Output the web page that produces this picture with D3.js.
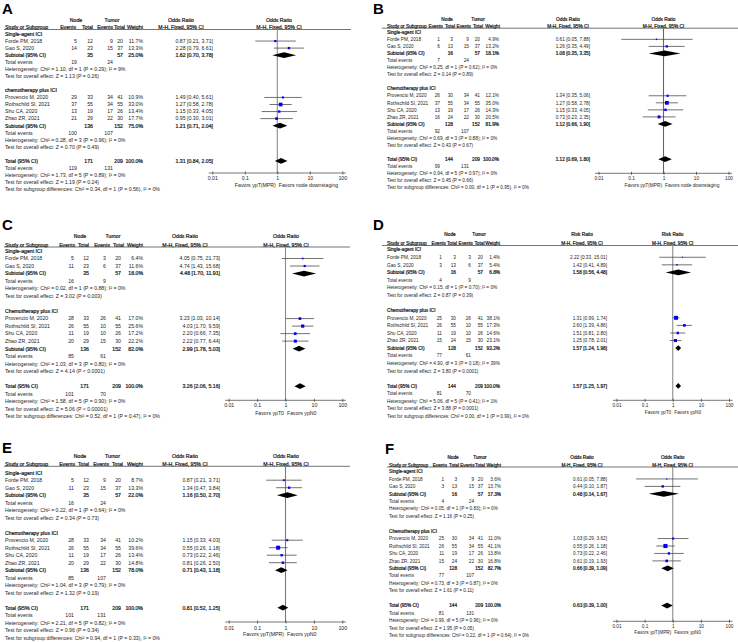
<!DOCTYPE html>
<html><head><meta charset="utf-8">
<script src="https://cdn.jsdelivr.net/npm/d3@7"></script>
<style>
html,body{margin:0;padding:0;background:#fff;}
svg{display:block;font-family:"Liberation Sans",Arial,sans-serif;}
</style></head><body>
<svg id="chart" width="738" height="642"></svg>
<script>
// ---------------- DATA ----------------
const panelLetters = ["A","B","C","D","E","F"];
const measureNames = ["Odds Ratio","Odds Ratio","Odds Ratio","Risk Ratio","Odds Ratio","Odds Ratio"];
const methodLabel = "M-H, Fixed, 95% CI";
const favorsLeft = ["Favors ypT(MPR)","Favors ypT(MPR)","Favors ypT0","Favors ypT0","Favors ypT(MPR)","Favors ypT(MPR)"];
const favorsRight = ["Favors node downstaging","Favors node downstaging","Favors ypN0","Favors ypN0","Favors ypN0","Favors ypN0"];
const subgroup1Names = ["Single-agent ICI","Single-agent ICI","Single-agent ICI","Single-agent ICI","Single-agent ICI","Single-agent ICI"];
const subgroup2Names = ["chemotherapy plus ICI","Chemotherapy plus ICI","Chemotherapy plus ICI","Chemotherapy plus ICI","Chemotherapy plus ICI","Chemotherapy plus ICI"];
const studyNames = ["Forde PM, 2018","Gao S, 2020","Provencio M, 2020","Rothschild SI, 2021","Shu CA, 2020","Zhao ZR, 2021"];
const tickValues = [0.01, 0.1, 1, 10, 100];
const tickLabels = ["0.01","0.1","1","10","100"];

const nodeEvents = [
  [5,14,29,37,13,21],
  [1,6,26,37,13,16],
  [5,11,28,26,11,20],
  [1,3,25,26,11,15],
  [5,11,28,26,11,20],
  [1,3,25,26,11,15]];
const nodeTotals = [
  [12,23,33,55,19,29],
  [3,13,30,55,19,24],
  [12,23,33,55,19,29],
  [3,13,30,55,19,24],
  [12,23,33,55,19,29],
  [3,13,30,55,19,24]];
const tumorEvents = [
  [9,15,34,34,17,22],
  [9,15,34,34,17,22],
  [3,6,26,10,10,15],
  [3,6,26,10,10,15],
  [9,15,34,34,17,22],
  [9,15,34,34,17,22]];
const tumorTotals = [
  [20,37,41,55,26,30],
  [20,37,41,55,26,30],
  [20,37,41,55,26,30],
  [20,37,41,55,26,30],
  [20,37,41,55,26,30],
  [20,37,41,55,26,30]];
const weights = [
  [11.7,13.3,10.9,33.0,13.4,17.7],
  [4.9,13.2,12.1,35.0,14.3,20.5],
  [6.4,11.6,17.0,25.6,17.2,22.2],
  [1.4,5.4,38.1,17.3,14.6,23.1],
  [8.7,13.3,10.2,39.6,13.4,14.8],
  [3.6,13.7,11.0,41.1,13.8,16.8]];
const estimates = [
  [0.87,2.28,1.49,1.27,1.15,0.95],
  [0.61,1.26,1.34,1.27,1.15,0.73],
  [4.05,4.74,3.23,4.03,2.20,2.22],
  [2.22,1.42,1.31,2.60,1.51,1.25],
  [0.87,1.34,1.15,0.55,0.73,0.81],
  [0.61,0.44,1.03,0.55,0.73,0.61]];
const lowerCI = [
  [0.21,0.79,0.40,0.58,0.33,0.30],
  [0.05,0.35,0.35,0.58,0.33,0.23],
  [0.75,1.43,1.03,1.70,0.66,0.77],
  [0.33,0.41,0.99,1.39,0.81,0.78],
  [0.21,0.47,0.33,0.26,0.22,0.26],
  [0.05,0.10,0.29,0.26,0.22,0.19]];
const upperCI = [
  [3.71,6.61,5.61,2.78,4.05,3.01],
  [7.88,4.49,5.06,2.78,4.05,2.35],
  [21.73,15.68,10.14,9.59,7.35,6.44],
  [15.01,4.89,1.74,4.86,2.80,2.01],
  [3.71,3.84,4.03,1.18,2.46,2.50],
  [7.88,1.87,3.62,1.18,2.46,1.93]];
// pooled results: [estimate, lower, upper]
const subtotal1 = [[1.62,0.70,3.78],[1.08,0.35,3.35],[4.48,1.70,11.91],[1.58,0.56,4.48],[1.16,0.50,2.70],[0.48,0.14,1.67]];
const subtotal2 = [[1.21,0.71,2.04],[1.12,0.66,1.90],[2.99,1.78,5.03],[1.57,1.24,1.98],[0.71,0.43,1.18],[0.66,0.39,1.09]];
const overall   = [[1.31,0.84,2.05],[1.12,0.69,1.80],[3.26,2.06,5.16],[1.57,1.25,1.97],[0.81,0.52,1.25],[0.63,0.39,1.00]];
const subtotalWeights = [[25.0,75.0],[18.1,81.9],[18.0,82.0],[6.8,93.2],[22.0,78.0],[17.3,82.7]];
// [node total, tumor total] for subtotal1, subtotal2, overall
const pooledTotals = [
  [[35,57],[136,152],[171,209]],
  [[16,57],[128,152],[144,209]],
  [[35,57],[136,152],[171,209]],
  [[16,57],[128,152],[144,209]],
  [[35,57],[136,152],[171,209]],
  [[16,57],[128,152],[144,209]]];
// [node events, tumor events] for subgroup1, subgroup2, overall
const pooledEvents = [
  [[19,24],[100,107],[119,131]],
  [[7,24],[92,107],[99,131]],
  [[16,9],[85,61],[101,70]],
  [[4,9],[77,61],[81,70]],
  [[16,24],[85,107],[101,131]],
  [[4,24],[77,107],[81,131]]];
const het1 = ["Chi² = 1.10, df = 1 (P = 0.29); I² = 9%","Chi² = 0.25, df = 1 (P = 0.62); I² = 0%","Chi² = 0.02, df = 1 (P = 0.88); I² = 0%","Chi² = 0.15, df = 1 (P = 0.70); I² = 0%","Chi² = 0.22, df = 1 (P = 0.64); I² = 0%","Chi² = 0.05, df = 1 (P = 0.83); I² = 0%"];
const test1 = ["Z = 1.13 (P = 0.26)","Z = 0.14 (P = 0.89)","Z = 3.02 (P = 0.003)","Z = 0.87 (P = 0.39)","Z = 0.34 (P = 0.73)","Z = 1.16 (P = 0.25)"];
const het2 = ["Chi² = 0.28, df = 3 (P = 0.96); I² = 0%","Chi² = 0.69, df = 3 (P = 0.88); I² = 0%","Chi² = 1.03, df = 3 (P = 0.80); I² = 0%","Chi² = 4.90, df = 3 (P = 0.18); I² = 39%","Chi² = 1.04, df = 3 (P = 0.79); I² = 0%","Chi² = 0.73, df = 3 (P = 0.87); I² = 0%"];
const test2 = ["Z = 0.70 (P = 0.49)","Z = 0.43 (P = 0.67)","Z = 4.14 (P < 0.0001)","Z = 3.80 (P = 0.0001)","Z = 1.32 (P = 0.19)","Z = 1.61 (P = 0.11)"];
const hetAll = ["Chi² = 1.73, df = 5 (P = 0.89); I² = 0%","Chi² = 0.94, df = 5 (P = 0.97); I² = 0%","Chi² = 1.58, df = 5 (P = 0.90); I² = 0%","Chi² = 5.06, df = 5 (P = 0.41); I² = 1%","Chi² = 2.21, df = 5 (P = 0.82); I² = 0%","Chi² = 0.99, df = 5 (P = 0.96); I² = 0%"];
const testAll = ["Z = 1.19 (P = 0.24)","Z = 0.45 (P = 0.66)","Z = 5.06 (P < 0.00001)","Z = 3.88 (P = 0.0001)","Z = 0.96 (P = 0.34)","Z = 1.95 (P = 0.05)"];
const subgroupTest = ["Chi² = 0.34, df = 1 (P = 0.56), I² = 0%","Chi² = 0.00, df = 1 (P = 0.95), I² = 0%","Chi² = 0.52, df = 1 (P = 0.47), I² = 0%","Chi² = 0.00, df = 1 (P = 0.99), I² = 0%","Chi² = 0.94, df = 1 (P = 0.33), I² = 0%","Chi² = 0.22, df = 1 (P = 0.64), I² = 0%"];

// ---------------- LAYOUT (positions / styles) ----------------
const layouts = [
 {fs:5.2, letterX:2, letterY:13.5, studyX:5, lineX1:4, lineX2:351,
  cols:[77,93,113,123,143,213], hdr:[76,93,113,125,143], nodeCx:76, tumorCx:112, effCx:181,
  h1Y:20, h2Y:27.3, lineY:29.5, row0Y:34, step:7.05,
  axisY:173, tickY:178.3, favY:185, range:[212.3,342.3], plotCx:279, vColor:"#8c8c8c"},
 {fs:4.75, letterX:373, letterY:14, studyX:387, lineX1:382, lineX2:738,
  cols:[440,453,469,480,499,590], hdr:[443,455,471,483,500], nodeCx:447, tumorCx:478, effCx:568,
  h1Y:19.3, h2Y:26, lineY:28.2, row0Y:32.3, step:7.05,
  axisY:173.3, tickY:178.3, favY:185, range:[598.5,728.5], plotCx:663.5, vColor:"#666"},
 {fs:5.2, letterX:2, letterY:230, studyX:5, lineX1:4, lineX2:350,
  cols:[74,89,106,121,143,220], hdr:[75,89,110,124,143], nodeCx:80, tumorCx:113, effCx:185,
  h1Y:236, h2Y:244.7, lineY:247, row0Y:251, step:7.51,
  axisY:400.3, tickY:404.7, favY:413, range:[228.7,342.3], plotCx:286, vColor:"#8c8c8c"},
 {fs:4.75, letterX:373, letterY:229.5, studyX:387, lineX1:382, lineX2:738,
  cols:[442,456,471,483,500,607], hdr:[446,457,473,484.5,500], nodeCx:450, tumorCx:479, effCx:582,
  h1Y:234.7, h2Y:243.7, lineY:245.5, row0Y:249.7, step:7.57,
  axisY:400.3, tickY:405.3, favY:412.7, range:[616.5,729], plotCx:672.7, vColor:"#8c8c8c"},
 {fs:5.2, letterX:2, letterY:453, studyX:5, lineX1:4, lineX2:350,
  cols:[74,89,106,121,143,220], hdr:[75,89,109,123,143], nodeCx:80, tumorCx:112.5, effCx:185,
  h1Y:456.3, h2Y:463.7, lineY:466.3, row0Y:472.7, step:7.5,
  axisY:622, tickY:628, favY:634.3, range:[228.7,342.3], plotCx:286, vColor:"#7a7a7a"},
 {fs:4.7, letterX:385, letterY:454, studyX:389, lineX1:387, lineX2:738,
  cols:[444,457,474,483,501,607], hdr:[447,459,474.5,485,501], nodeCx:453, tumorCx:480, effCx:582,
  h1Y:457, h2Y:465.3, lineY:467, row0Y:471.5, step:7.45,
  axisY:621.3, tickY:626, favY:632, range:[616.5,729], plotCx:672.7, vColor:"#8c8c8c"}
];

const TEXT = "#1e1e1e", LINE = "#3a3a3a", BLUE = "#0000ff";
const svg = d3.select("#chart");
const f2 = v => v.toFixed(2);
const effLabel = (e,l,h) => `${f2(e)} [${f2(l)}, ${f2(h)}]`;
const wLabel = w => w.toFixed(1) + "%";

// "bold" is drawn as a faux bold (thin stroke) so widths stay those of the regular face
function txt(g, x, y, s, opt={}) {
  const t = g.append("text").attr("x", x).attr("y", y).attr("dy", "0.36em")
    .attr("text-anchor", opt.anchor || "start")
    .attr("font-size", opt.size)
    .attr("fill", TEXT).text(s);
  if (opt.bold) t.attr("stroke", TEXT).attr("stroke-width", 0.22);
  return t;
}

panelLetters.forEach((letter, p) => {
  const L = layouts[p];
  const g = svg.append("g");
  const fs = L.fs;
  const rowY = i => L.row0Y + i * L.step;
  const x = d3.scaleLog().domain([0.01, 100]).range(L.range);

  // panel letter
  g.append("text").attr("x", L.letterX).attr("y", L.letterY).attr("font-size", 15)
    .attr("font-weight", "bold").attr("fill", "#000").text(letter);

  // headers
  txt(g, L.nodeCx, L.h1Y, "Node", {anchor:"middle", size:fs, bold:true});
  txt(g, L.tumorCx, L.h1Y, "Tumor", {anchor:"middle", size:fs, bold:true});
  txt(g, L.effCx, L.h1Y, measureNames[p], {anchor:"middle", size:fs, bold:true});
  txt(g, L.plotCx, L.h1Y, measureNames[p], {anchor:"middle", size:fs, bold:true});
  txt(g, L.studyX, L.h2Y, "Study or Subgroup", {size:fs, bold:true});
  ["Events","Total","Events","Total","Weight"].forEach((h, k) =>
    txt(g, L.hdr[k], L.h2Y, h, {anchor:"end", size:fs, bold:true}));
  txt(g, L.effCx, L.h2Y, methodLabel, {anchor:"middle", size:fs, bold:true});
  txt(g, L.plotCx, L.h2Y, methodLabel, {anchor:"middle", size:fs, bold:true});
  g.append("line").attr("x1", L.lineX1).attr("x2", L.lineX2)
    .attr("y1", L.lineY).attr("y2", L.lineY).attr("stroke", LINE).attr("stroke-width", 0.7);

  // vertical line of no effect
  g.append("line").attr("x1", x(1)).attr("x2", x(1)).attr("y1", L.lineY).attr("y2", L.axisY)
    .attr("stroke", L.vColor).attr("stroke-width", 1.1);

  const studyRow = (i, row) => {
    const y = rowY(row);
    txt(g, L.studyX, y, studyNames[i], {size:fs});
    txt(g, L.cols[0], y, nodeEvents[p][i], {anchor:"end", size:fs});
    txt(g, L.cols[1], y, nodeTotals[p][i], {anchor:"end", size:fs});
    txt(g, L.cols[2], y, tumorEvents[p][i], {anchor:"end", size:fs});
    txt(g, L.cols[3], y, tumorTotals[p][i], {anchor:"end", size:fs});
    txt(g, L.cols[4], y, wLabel(weights[p][i]), {anchor:"end", size:fs});
    txt(g, L.cols[5], y, effLabel(estimates[p][i], lowerCI[p][i], upperCI[p][i]), {anchor:"end", size:fs});
    g.append("line").attr("x1", x(lowerCI[p][i])).attr("x2", x(upperCI[p][i]))
      .attr("y1", y).attr("y2", y).attr("stroke", "#444").attr("stroke-width", 0.75);
    const s = Math.max(1.1, 0.64 * Math.sqrt(weights[p][i]));
    g.append("rect").attr("x", x(estimates[p][i]) - s/2).attr("y", y - s/2)
      .attr("width", s).attr("height", s).attr("fill", BLUE);
  };
  const diamond = (vals, y) => {
    const [e,l,h] = vals, hh = 2.9;
    g.append("path").attr("d", `M${x(l)},${y}L${x(e)},${y-hh}L${x(h)},${y}L${x(e)},${y+hh}Z`)
      .attr("fill", "#000");
  };
  const pooledRow = (label, k, vals, w, row) => {
    const y = rowY(row);
    txt(g, L.studyX, y, label, {size:fs, bold:true});
    txt(g, L.cols[1], y, pooledTotals[p][k][0], {anchor:"end", size:fs, bold:true});
    txt(g, L.cols[3], y, pooledTotals[p][k][1], {anchor:"end", size:fs, bold:true});
    txt(g, L.cols[4], y, wLabel(w), {anchor:"end", size:fs, bold:true});
    txt(g, L.cols[5], y, effLabel(vals[0], vals[1], vals[2]), {anchor:"end", size:fs, bold:true});
    diamond(vals, y);
  };
  const eventsRow = (k, row) => {
    const y = rowY(row);
    txt(g, L.studyX, y, "Total events", {size:fs});
    txt(g, L.cols[0], y, pooledEvents[p][k][0], {anchor:"end", size:fs});
    txt(g, L.cols[2], y, pooledEvents[p][k][1], {anchor:"end", size:fs});
  };

  // subgroup 1
  txt(g, L.studyX, rowY(0), subgroup1Names[p], {size:fs, bold:true});
  studyRow(0, 1); studyRow(1, 2);
  pooledRow("Subtotal (95% CI)", 0, subtotal1[p], subtotalWeights[p][0], 3);
  eventsRow(0, 4);
  txt(g, L.studyX, rowY(5), "Heterogeneity: " + het1[p], {size:fs});
  txt(g, L.studyX, rowY(6), "Test for overall effect: " + test1[p], {size:fs});
  // subgroup 2
  txt(g, L.studyX, rowY(8), subgroup2Names[p], {size:fs, bold:true});
  [2,3,4,5].forEach((i, k) => studyRow(i, 9 + k));
  pooledRow("Subtotal (95% CI)", 1, subtotal2[p], subtotalWeights[p][1], 13);
  eventsRow(1, 14);
  txt(g, L.studyX, rowY(15), "Heterogeneity: " + het2[p], {size:fs});
  txt(g, L.studyX, rowY(16), "Test for overall effect: " + test2[p], {size:fs});
  // overall
  pooledRow("Total (95% CI)", 2, overall[p], 100.0, 18);
  eventsRow(2, 19);
  txt(g, L.studyX, rowY(20), "Heterogeneity: " + hetAll[p], {size:fs});
  txt(g, L.studyX, rowY(21), "Test for overall effect: " + testAll[p], {size:fs});
  txt(g, L.studyX, rowY(22), "Test for subgroup differences: " + subgroupTest[p], {size:fs});

  // axis
  const axisG = g.append("g").attr("transform", `translate(0,${L.axisY})`)
    .call(d3.axisBottom(x).tickValues(tickValues)
      .tickFormat((d, i) => tickLabels[i]).tickSizeInner(1.6).tickSizeOuter(0));
  axisG.select(".domain").remove();
  axisG.selectAll(".tick line").attr("y1", -1.6).attr("y2", 1.6).attr("stroke", LINE).attr("stroke-width", 0.7);
  axisG.selectAll(".tick text").attr("y", L.tickY - L.axisY).attr("dy", "0.36em")
    .attr("font-size", fs).attr("font-family", "Liberation Sans, Arial, sans-serif").attr("fill", TEXT);
  axisG.append("line").attr("x1", L.range[0] - 3.5).attr("x2", L.range[1] + 3.5)
    .attr("y1", 0).attr("y2", 0).attr("stroke", LINE).attr("stroke-width", 0.7);

  txt(g, x(1) - 1.5, L.favY, favorsLeft[p], {anchor:"end", size:fs});
  txt(g, x(1) + 1.5, L.favY, favorsRight[p], {anchor:"start", size:fs});
});
</script>
</body></html>
